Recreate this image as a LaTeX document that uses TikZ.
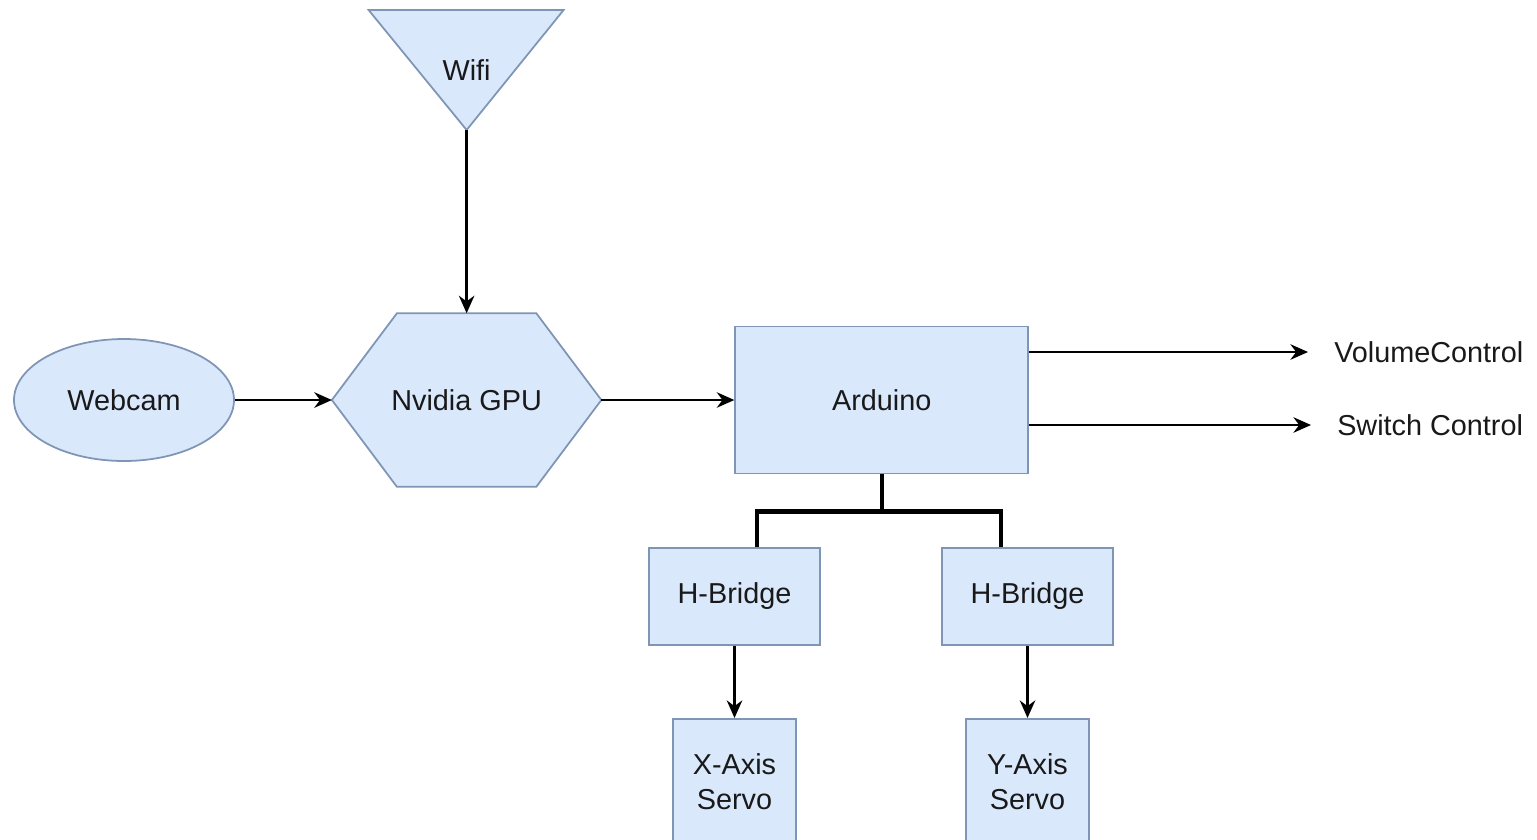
\documentclass[tikz,border=0pt]{standalone}
\usepackage{fontspec}
\setsansfont{Liberation Sans}
\usepackage{tikz}
\usetikzlibrary{calc,arrows.meta,positioning,shapes.geometric,backgrounds}
\definecolor{boxfill}{HTML}{DAE8FC}
\definecolor{boxline}{HTML}{7F95B5}
\tikzset{
    every node/.style={font=\sffamily\fontsize{8.2}{9.9}\selectfont,text=black!90},
    main node/.style={draw=boxline,fill=boxfill,line width=0.5pt,inner sep=0pt,align=center},
    bus line/.style={-,line width=1.2pt}
}

\begin{document}
\begin{tikzpicture}[->,>={Stealth[length=5pt,width=4.4pt]},line width=0.7pt]
    \useasboundingbox (0,0) rectangle (15.37,8.39);

    \node[main node,ellipse,minimum width=2.2cm,minimum height=1.22cm] (webcam) at (1.24,4.39) {Webcam};
    \node[inner sep=0pt,minimum width=2.67cm,minimum height=1.71cm] (gpu) [right=0.97cm of webcam] {Nvidia GPU};
    \node[main node,minimum width=2.93cm,minimum height=1.47cm] (arduino) [right=1.33cm of gpu] {Arduino};
    \node (wifi) at (gpu |- 0,7.69) {Wifi};
    \coordinate (wifitip) at (gpu |- 0,7.09);

    % shapes behind the texts
    \begin{scope}[on background layer]
        \draw[main node,-] ($(wifitip)+(-0.98,1.2)$) -- ($(wifitip)+(0.97,1.2)$) -- (wifitip) -- cycle;
        \draw[main node,-] (gpu.west) -- ($(gpu.north west)+(0.65,0)$) -- ($(gpu.north east)+(-0.65,0)$)
            -- (gpu.east) -- ($(gpu.south east)+(-0.65,0)$) -- ($(gpu.south west)+(0.65,0)$) -- cycle;
    \end{scope}

    \node[anchor=west,inner sep=0pt] (vol) at (13.33,4.87) {VolumeControl};
    \node[anchor=west,inner sep=0pt] (switch) at (13.36,4.14) {Switch Control};

    \node[main node,minimum width=1.71cm,minimum height=0.97cm] (hbx) at (7.345,2.425) {H-Bridge};
    \node[main node,minimum width=1.71cm,minimum height=0.97cm] (hby) at (10.275,2.425) {H-Bridge};
    \node[main node,anchor=north,minimum width=1.23cm,minimum height=1.26cm] (servox) at (7.345,1.21) {X-Axis\\Servo};
    \node[main node,anchor=north,minimum width=1.23cm,minimum height=1.26cm] (servoy) at (10.275,1.21) {Y-Axis\\Servo};

    \draw (webcam) -- (gpu);
    \draw (gpu) -- (arduino);
    \draw (wifitip) -- (gpu);
    \draw[shorten >=0.25cm] (arduino.east |- vol) -- (vol);
    \draw[shorten >=0.25cm] (arduino.east |- switch) -- (switch);

    % bus down to the bridges
    \coordinate (split) at ($(arduino.south)+(0,-0.37)$);
    \draw[bus line] (arduino.south) -- (split);
    \draw[bus line] ($(hbx.north)+(0.225,0)$) |- (split) -| ($(hby.north)+(-0.265,0)$);

    \draw (hbx) -- (servox);
    \draw (hby) -- (servoy);
\end{tikzpicture}
\end{document}
